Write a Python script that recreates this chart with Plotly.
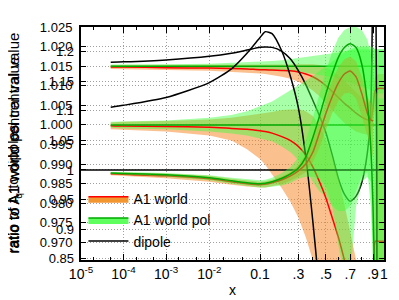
import math
import plotly.graph_objects as go

# ---------------- data ----------------
X = [5e-5, 1e-4, 1e-3, 1e-2, 0.03, 0.06, 0.1, 0.12, 0.15, 0.2, 0.25, 0.3, 0.35, 0.4,
     0.45, 0.5, 0.55, 0.6, 0.65, 0.7, 0.75, 0.8, 0.85, 0.88, 0.9, 0.92, 0.95, 1.0]

# upper group (main axis)
top_red = [1.0148, 1.0148, 1.0146, 1.0145, 1.0144, 1.0143, 1.0141, 1.0141, 1.0140, 1.0139,
           1.0138, 1.0135, 1.0130, 1.0123, 1.0113, 1.0100, 1.0085, 1.0070, 1.0055, 1.0043,
           1.0030, 1.0020, 1.0013, 1.0013, 1.0043, 1.0088, 1.0093, 1.0093]
top_orange_up = [1.0153] * 10 + [1.0154, 1.0155, 1.0155, 1.0155, 1.0153, 1.0148, 1.0138, 1.0125,
                                 1.0113, 1.0098, 1.0083, 1.0068, 1.0055, 1.0063, 1.0093, 1.0123,
                                 1.0130, 1.0130]
top_orange_lo = [1.0143, 1.0141, 1.0140, 1.0138, 1.0135, 1.0133, 1.0131, 1.0130, 1.0128, 1.0123,
                 1.0118, 1.0110, 1.0100, 1.0088, 1.0073, 1.0055, 1.0038, 1.0020, 1.0005, 0.9993,
                 0.9983, 0.9978, 0.9975, 0.9980, 0.9998, 1.0043, 1.0055, 1.0055]
top_green_up = [1.0154, 1.0154, 1.0155, 1.0156, 1.0158, 1.0159, 1.0160, 1.0161, 1.0163, 1.0165,
                1.0168, 1.0170, 1.0173, 1.0175, 1.0178, 1.0180, 1.0183, 1.0185, 1.0188, 1.0190,
                1.0193, 1.0193, 1.0193, 1.0193, 1.0193, 1.0193, 1.0193, 1.0193]
top_green_lo = [1.0146, 1.0146, 1.0145, 1.0144, 1.0143, 1.0141, 1.0140, 1.0140, 1.0139, 1.0138,
                1.0136, 1.0135, 1.0133, 1.0130, 1.0128, 1.0125, 1.0123, 1.0118, 1.0113, 1.0108,
                1.0103, 1.0098, 1.0093, 1.0088, 1.0085, 1.0083, 1.0080, 1.0080]
top_green = [1.015] * len(X)
top_dipole = [1.0160, 1.0161, 1.0166, 1.0175, 1.0183, 1.0191, 1.0198, 1.0199, 1.0198, 1.0188,
              1.0168, 1.0138, 1.0103, 1.0063, 1.0023, 0.9980, 0.9923, 0.9863, 0.9823, 0.9805,
              0.9818, 0.9853, 0.9930, 1.0043, 1.0443]

# middle group (main axis)
mid_red = [0.9998, 0.9997, 0.9996, 0.9994, 0.9991, 0.9989, 0.9985, 0.9983, 0.9979, 0.9970,
           0.9960, 0.9945, 0.9923, 0.9893, 0.9855, 0.9813, 0.9763, 0.9713, 0.9655, 0.9593,
           0.9518, 0.9443, 0.9368, 0.9318, 0.9293, 0.9703, 0.9703, 0.9703]
mid_orange_up = [1.0006, 1.0008, 1.0010, 1.0014, 1.0018, 1.0023, 1.0028, 1.0030, 1.0033, 1.0038,
                 1.0040, 1.0040, 1.0035, 1.0023, 0.9998, 0.9963, 0.9918, 0.9863, 0.9798, 0.9730,
                 0.9655, 0.9568, 0.9468, 0.9393, 0.9343, 1.0043, 1.0055, 1.0055]
mid_orange_lo = [0.9989, 0.9988, 0.9983, 0.9973, 0.9960, 0.9938, 0.9913, 0.9898, 0.9875, 0.9838,
                 0.9803, 0.9763, 0.9713, 0.9655, 0.9580, 0.9493, 0.9393, 0.9293, 0.9218, 0.9168,
                 0.9168, 0.9168, 0.9168, 0.9168, 0.9168, 0.9648, 0.9648, 0.9648]
mid_green_up = [1.0008, 1.0009, 1.0011, 1.0018, 1.0025, 1.0035, 1.0048, 1.0053, 1.0060, 1.0075,
                1.0088, 1.0100, 1.0113, 1.0125, 1.0138, 1.0150, 1.0163, 1.0175, 1.0185, 1.0193,
                1.0198, 1.0200, 1.0200, 1.0200, 1.0198, 1.0193, 1.0193, 1.0193]
mid_green_lo = [0.9993, 0.9991, 0.9989, 0.9983, 0.9978, 0.9973, 0.9965, 0.9963, 0.9958, 0.9945,
                0.9930, 0.9910, 0.9885, 0.9855, 0.9830, 0.9818, 0.9793, 0.9780, 0.9780, 0.9793,
                0.9830, 0.9868, 0.9880, 0.9793, 0.9648, 0.9648, 0.9648, 0.9648]
mid_green = [1.000] * len(X)
mid_dipole = [1.0045, 1.0050, 1.0070, 1.0108, 1.0143, 1.0183, 1.0223, 1.0238, 1.0233, 1.0188,
              1.0123, 1.0043, 0.9918, 0.9755, 0.9568, 0.9293] + [0.9168] * 9 + [1.0543]

# lower group (second axis: ratio to dipole)
low_red = [0.9934, 0.9926, 0.9901, 0.9851, 0.9802, 0.9769, 0.9752, 0.9760, 0.9785, 0.9835,
           0.9901, 0.9983, 1.0099, 1.0298, 1.0628, 1.0959, 1.1240, 1.1471, 1.1620, 1.1669,
           1.1570, 1.1289, 1.0959, 1.0843, 1.0826]
low_orange_up = [0.9959, 0.9959, 0.9942, 0.9901, 0.9851, 0.9818, 0.9802, 0.9810, 0.9835, 0.9893,
                 0.9967, 1.0083, 1.0264, 1.0545, 1.0876, 1.1207, 1.1504, 1.1736, 1.1868, 1.1917,
                 1.1835, 1.1570, 1.1240, 1.1124, 1.1041]
low_orange_lo = [0.9909, 0.9901, 0.9860, 0.9802, 0.9752, 0.9719, 0.9702, 0.9702, 0.9719, 0.9760,
                 0.9818, 0.9884, 0.9967, 1.0132, 1.0380, 1.0678, 1.0959, 1.1174, 1.1289, 1.1306,
                 1.1207, 1.0909, 1.0579, 1.0380, 1.0215]
low_green = [0.9950, 0.9942, 0.9917, 0.9868, 0.9818, 0.9785, 0.9769, 0.9777, 0.9802, 0.9860,
             0.9934, 1.0033, 1.0215, 1.0545, 1.0909, 1.1289, 1.1620, 1.1901, 1.2066, 1.2132,
             1.2066, 1.1785, 1.1124, 1.0380, 0.9388, 0.7736]
low_green_up = [0.9967, 0.9967, 0.9950, 0.9909, 0.9868, 0.9843, 0.9826, 0.9835, 0.9868, 0.9950,
                1.0050, 1.0215, 1.0496, 1.0876, 1.1289, 1.1669, 1.2000, 1.2231, 1.2364, 1.2413,
                1.2413, 1.2364, 1.2198, 1.1950, 1.1702, 1.1372, 1.1207, 1.1207]
low_green_lo = [0.9926, 0.9917, 0.9884, 0.9826, 0.9769, 0.9727, 0.9702, 0.9702, 0.9711, 0.9736,
                0.9785, 0.9851, 0.9884, 0.9884, 0.9851, 0.9719, 0.9388, 0.8727, 0.8231, 0.8231,
                0.9388, 0.9802, 0.9884, 0.9802, 0.8430, 0.8430, 0.8430, 0.8430]
dipole_ref_x = [1e-5, 1.0]
dipole_ref = [1.0, 1.0]

XTICKS = [1e-5, 1e-4, 1e-3, 1e-2, 0.1, 0.3, 0.5, 0.7, 0.9, 1.0]
XTICKTEXT = ["10<sup>-5</sup>", "10<sup>-4</sup>", "10<sup>-3</sup>", "10<sup>-2</sup>",
             "0.1", ".3", ".5", ".7", ".9", "1"]
XMINOR = [2e-5, 5e-5, 2e-4, 5e-4, 2e-3, 5e-3, 2e-2, 5e-2, 0.2, 0.4, 0.6, 0.8]
Y1TICKS = [0.965, 0.970, 0.975, 0.980, 0.985, 0.990, 0.995, 1.000, 1.005, 1.010, 1.015, 1.020, 1.025]
Y2TICKS = [0.85, 0.9, 0.95, 1.0, 1.05, 1.1, 1.15, 1.2]
Y2TICKTEXT = ["0.85", "0.9", "0.95", "1", "1.05", "1.1", "1.15", "1.2"]
YTITLES = ["ratio to A1 world pol central value", "ratio to A1 world central value",
           "ratio of f<sub>q</sub> to dipoles"]

# ---------------- axis mapping (log at small x, linear near 1) ----------------
K = 2.13


def fx(v):
    return math.log10(v) + K * v


def fxs(vals):
    return [fx(v) for v in vals]


ORANGE = "rgba(245,130,30,0.5)"
GREEN = "rgba(60,255,60,0.45)"
RED = "#ff0000"
DGREEN = "#00a800"
FONT = "Liberation Sans, Arial, sans-serif"

fig = go.Figure()


def band(xs, up, lo, color, yaxis="y"):
    n = min(len(up), len(lo))
    xx = fxs(xs[:n])
    fig.add_trace(go.Scatter(x=xx + xx[::-1], y=up[:n] + lo[:n][::-1], mode="lines",
                             fill="toself", fillcolor=color, line=dict(width=0),
                             hoverinfo="skip", showlegend=False, yaxis=yaxis))


def curve(xs, ys, color, yaxis="y", width=1.5):
    fig.add_trace(go.Scatter(x=fxs(xs[:len(ys)]), y=ys, mode="lines",
                             line=dict(color=color, width=width, shape="spline", smoothing=0.6),
                             showlegend=False, yaxis=yaxis))


# upper group
band(X, top_orange_up, top_orange_lo, ORANGE)
band(X, top_green_up, top_green_lo, GREEN)
curve(X, top_red, RED)
curve(X, top_green, DGREEN)
curve(X, top_dipole, "black")
# middle group
band(X, mid_orange_up, mid_orange_lo, ORANGE)
band(X, mid_green_up, mid_green_lo, GREEN)
curve(X, mid_red, RED)
curve(X, mid_green, DGREEN)
curve(X, mid_dipole, "black")
# lower group (second axis)
curve(dipole_ref_x, dipole_ref, "black", yaxis="y2")
band(X, low_orange_up, low_orange_lo, ORANGE, yaxis="y2")
curve(X, low_red, RED, yaxis="y2")
band(X, low_green_up, low_green_lo, GREEN, yaxis="y2")
curve(X, low_green, DGREEN, yaxis="y2")

# legend entries
fig.add_trace(go.Scatter(x=[None], y=[None], mode="lines", fill="toself",
                         fillcolor="rgb(242,150,50)", line=dict(color=RED, width=1.5),
                         name="A1 world"))
fig.add_trace(go.Scatter(x=[None], y=[None], mode="lines", fill="toself",
                         fillcolor="rgb(95,255,95)", line=dict(color=DGREEN, width=1.5),
                         name="A1 world pol"))
fig.add_trace(go.Scatter(x=[None], y=[None], mode="lines", line=dict(color="black", width=1.5),
                         name="dipole"))

grid = dict(showgrid=True, gridcolor="#a0a0a0", griddash="1px,2px", gridwidth=1)

fig.update_layout(
    width=399, height=300,
    margin=dict(l=73, r=23, t=17, b=45),
    paper_bgcolor="white", plot_bgcolor="white",
    font=dict(family=FONT, size=13, color="black"),
    showlegend=True,
    legend=dict(x=0.008, y=0.33, xanchor="left", yanchor="top", bgcolor="rgba(0,0,0,0)",
                font=dict(size=14), itemwidth=40, tracegroupgap=0),
    xaxis=dict(range=[fx(1e-5), K], tickmode="array", tickvals=fxs(XTICKS), ticktext=XTICKTEXT,
               tickangle=0, ticks="inside", ticklen=6, tickwidth=1, tickcolor="black",
               mirror="ticks", showline=True, linewidth=2, linecolor="black", zeroline=False,
               tickfont=dict(size=14),
               minor=dict(tickmode="array", tickvals=fxs(XMINOR), ticks="inside", ticklen=3,
                          tickcolor="black", showgrid=False),
               title=dict(text="x", font=dict(size=14), standoff=4), **grid),
    yaxis=dict(range=[0.9655, 1.025], tickmode="array", tickvals=Y1TICKS,
               ticktext=["%.3f" % v for v in Y1TICKS], ticks="inside", ticklen=5,
               tickcolor="black", mirror="ticks", showline=True, linewidth=2,
               linecolor="black", zeroline=False, ticklabelstandoff=4, **grid),
    yaxis2=dict(range=[0.848, 1.2413], overlaying="y", side="left", anchor="x",
                tickmode="array", tickvals=Y2TICKS, ticktext=Y2TICKTEXT, ticks="inside",
                ticklen=5, tickcolor="black", mirror="ticks", showline=False, zeroline=False,
                ticklabelstandoff=6, **grid),
)

for txt in YTITLES:
    fig.add_annotation(text=txt, textangle=-90, xref="paper", yref="paper", x=-0.222,
                       y=0.02, xanchor="center", yanchor="bottom", showarrow=False,
                       font=dict(size=15))

fig.write_html("out.html")
